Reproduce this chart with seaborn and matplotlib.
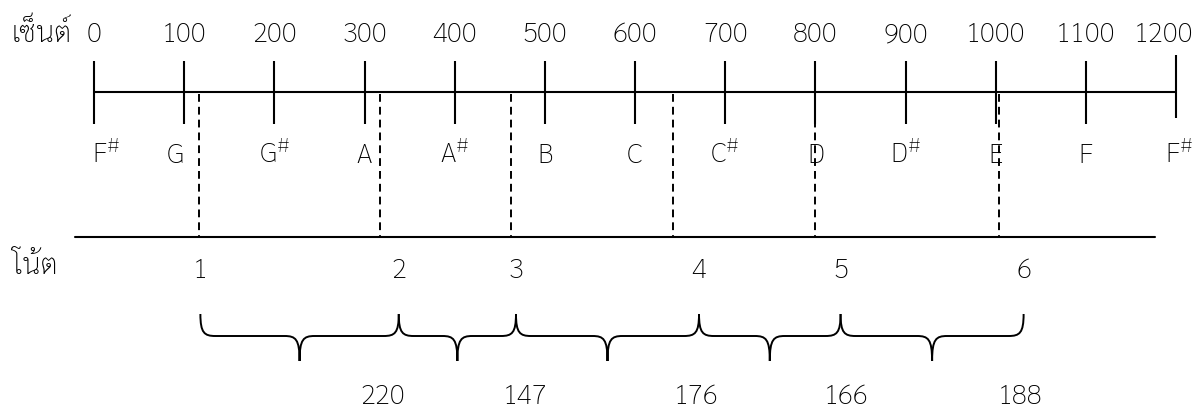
import matplotlib
matplotlib.use("Agg")
import matplotlib.pyplot as plt
from matplotlib import font_manager as fm
from matplotlib.textpath import TextPath
from matplotlib.path import Path
from matplotlib.patches import PathPatch
import seaborn as sns

# ---------------- data ----------------
cent_ticks = [0, 100, 200, 300, 400, 500, 600, 700, 800, 900, 1000, 1100, 1200]
note_names = ["F#", "G", "G#", "A", "A#", "B", "C", "C#", "D", "D#", "E", "F", "F#"]
scale_cents = [116, 317, 463, 642, 800, 1004]        # dashed lines (measured pitch, cents)
note_numbers = ["1", "2", "3", "4", "5", "6"]
note_label_cents = [118, 338, 468, 671, 828, 1031]   # where the note numbers / braces sit
interval_values = [220, 147, 176, 166, 188]
label_cents = "เซ็นต์"
label_note = "โน้ต"

# ---------------- fonts ----------------
sns.set_theme(style="white")
names = {f.name for f in fm.fontManager.ttflist}
thai = None
for cand in ["Sarabun", "Noto Sans Thai Looped", "Noto Sans Thai", "Anuphan"]:
    if cand in names:
        thai = cand
        break
fam = [thai, "DejaVu Sans"] if thai else ["DejaVu Sans"]
WEIGHT = "light"
plt.rcParams["font.family"] = fam
plt.rcParams["font.weight"] = WEIGHT
plt.rcParams["mathtext.fontset"] = "custom"
plt.rcParams["mathtext.rm"] = fam[0] + ":light"
plt.rcParams["mathtext.default"] = "regular"

DPI = 100
W, H = 1203, 410
fp = fm.FontProperties(family=fam, weight=WEIGHT)
cap_ratio = TextPath((0, 0), "F", size=100, prop=fp).get_extents().height / 100.0
FS = 19.5 / cap_ratio * 72 / DPI   # font size giving ~19.5 px cap height

# ---------------- layout (pixels) ----------------
px0, px1200 = 94, 1176
ppc = (px1200 - px0) / 1200.0       # pixels per cent
Y_NUM = 42          # baseline of cent numbers
Y_TICK0, Y_TICK1 = 62, 125
Y_AXIS = 93
Y_NAME = 163        # baseline of note names
Y_BOT = 238
Y_NOTE = 278        # baseline of note numbers
Y_BR_TOP, Y_BR_MID, Y_BR_TIP = 315, 337, 362
Y_VAL = 404

fig = plt.figure(figsize=(W / DPI, H / DPI), dpi=DPI)
ax = fig.add_axes([0, 0, 1, 1])
ax.set_xlim(-px0 / ppc, (W - px0) / ppc)
ax.set_ylim(H, 0)
ax.axis("off")

LW = 1.5
# main cents axis line
sns.lineplot(x=[cent_ticks[0], cent_ticks[-1]], y=[Y_AXIS, Y_AXIS], ax=ax,
             color="black", linewidth=LW, estimator=None, sort=False)

tick_shift = {1200: -6}
label_shift = {1200: -13}
name_shift = {0: 12, 100: -9, 1200: 3}
for c, nm in zip(cent_ticks, note_names):
    dy = tick_shift.get(c, 0)
    ax.plot([c, c], [Y_TICK0 + dy, Y_TICK1 + dy], color="black", lw=LW,
            solid_capstyle="butt")
    ax.text(c + label_shift.get(c, 0) / ppc, Y_NUM, str(c), ha="center",
            va="baseline", fontsize=FS, color="black")
    txt = nm[0] + (r"$^{\#}$" if nm.endswith("#") else "")
    ax.text(c + name_shift.get(c, 0) / ppc, Y_NAME, txt, ha="center",
            va="baseline", fontsize=FS, color="black")

ax.text((12 - px0) / ppc, Y_NUM, label_cents, ha="left", va="baseline",
        fontsize=FS * 1.05, color="black")
ax.text((12 - px0) / ppc, Y_NOTE - 4, label_note, ha="left", va="baseline",
        fontsize=FS * 1.05, color="black")

# dashed lines for the measured scale
for c in scale_cents:
    ax.plot([c, c], [Y_AXIS + 2, Y_BOT], color="black", lw=1.4,
            linestyle=(0, (4.0, 2.6)))

# bottom line
ax.plot([(75 - px0) / ppc, (1155 - px0) / ppc], [Y_BOT, Y_BOT], color="black", lw=LW)

# note numbers
for c, n in zip(note_label_cents, note_numbers):
    ax.text(c, Y_NOTE, n, ha="center", va="baseline", fontsize=FS, color="black")

# braces
r = 15 / ppc
k = 4 / ppc
for a, b in zip(note_label_cents[:-1], note_label_cents[1:]):
    m = (a + b) / 2.0
    verts = [
        (a, Y_BR_TOP),
        (a, Y_BR_MID - 3), (a + k, Y_BR_MID), (a + r, Y_BR_MID),
        (m - r, Y_BR_MID),
        (m - k, Y_BR_MID), (m, Y_BR_MID + 3), (m, Y_BR_TIP),
        (m, Y_BR_MID + 3), (m + k, Y_BR_MID), (m + r, Y_BR_MID),
        (b - r, Y_BR_MID),
        (b - k, Y_BR_MID), (b, Y_BR_MID - 3), (b, Y_BR_TOP),
    ]
    codes = [Path.MOVETO,
             Path.CURVE4, Path.CURVE4, Path.CURVE4,
             Path.LINETO,
             Path.CURVE4, Path.CURVE4, Path.CURVE4,
             Path.CURVE4, Path.CURVE4, Path.CURVE4,
             Path.LINETO,
             Path.CURVE4, Path.CURVE4, Path.CURVE4]
    ax.add_patch(PathPatch(Path(verts, codes), fill=False, edgecolor="black", lw=1.4))

# interval values (placed near the right end of each brace)
val_shift_px = [-16, 9, -3, 5, -4]
for v, b, s in zip(interval_values, note_label_cents[1:], val_shift_px):
    ax.text(b + s / ppc, Y_VAL, str(v), ha="center", va="baseline", fontsize=FS,
            color="black")

fig.savefig("out.png", dpi=DPI)
